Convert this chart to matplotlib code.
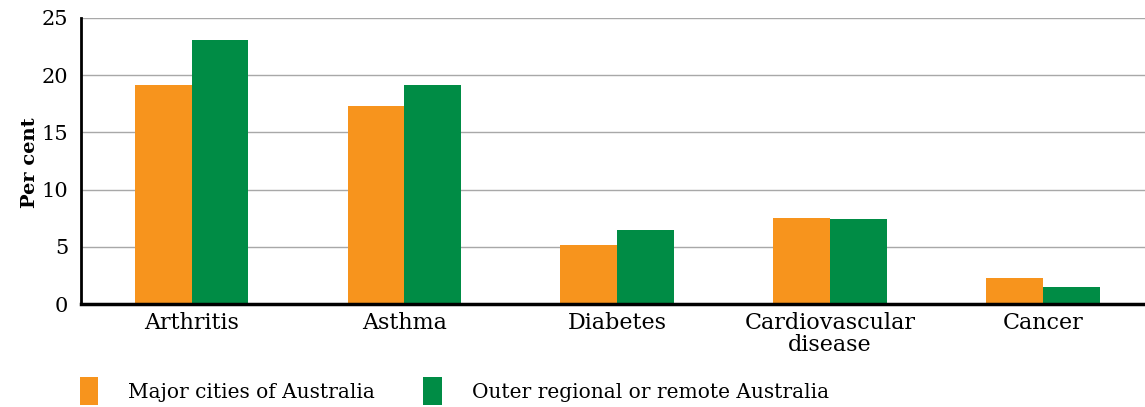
import numpy as np
import matplotlib
matplotlib.use("Agg")
import matplotlib.pyplot as plt

categories = ["Arthritis", "Asthma", "Diabetes", "Cardiovascular\ndisease", "Cancer"]
major_cities = [19.1, 17.3, 5.2, 7.5, 2.3]
outer_remote = [23.1, 19.1, 6.5, 7.4, 1.5]
series_labels = ["Major cities of Australia", "Outer regional or remote Australia"]
y_ticks = [0, 5, 10, 15, 20, 25]

ORANGE = "#F7941D"
GREEN = "#008C45"

plt.rcParams["font.family"] = ["DejaVu Serif"]

fig = plt.figure(figsize=(11.45, 4.07), dpi=100)
ax = fig.add_axes([0.0707, 0.253, 0.9293, 0.703])

x = np.arange(len(categories))
w = 0.267
ax.bar(x - w / 2, major_cities, w, color=ORANGE, label=series_labels[0], zorder=3)
ax.bar(x + w / 2, outer_remote, w, color=GREEN, label=series_labels[1], zorder=3)

ax.set_xlim(-0.52, 4.48)
ax.set_ylim(0, 25)
ax.set_yticks(y_ticks)
ax.set_xticks(x)
ax.set_xticklabels(categories, fontsize=16, linespacing=1.0)
ax.tick_params(axis="y", labelsize=15, length=0, pad=9)
ax.tick_params(axis="x", length=0, pad=6)
ax.yaxis.grid(True, color="#a8a8a8", linewidth=1.0, zorder=0)
ax.set_axisbelow(True)

for s in ["top", "right"]:
    ax.spines[s].set_visible(False)
ax.spines["left"].set_linewidth(2)
ax.spines["bottom"].set_linewidth(2.5)
ax.spines["bottom"].set_zorder(4)

fig.text(0.026, 0.6, "Per cent", rotation=90, fontsize=14, fontweight="bold",
         ha="center", va="center")

fig.legend(loc="lower left", bbox_to_anchor=(0.054, -0.04), ncol=2, frameon=False,
           fontsize=14.5, handlelength=0.9, handleheight=1.75, handletextpad=1.5,
           columnspacing=2.4)

fig.savefig("out.png", dpi=100)
